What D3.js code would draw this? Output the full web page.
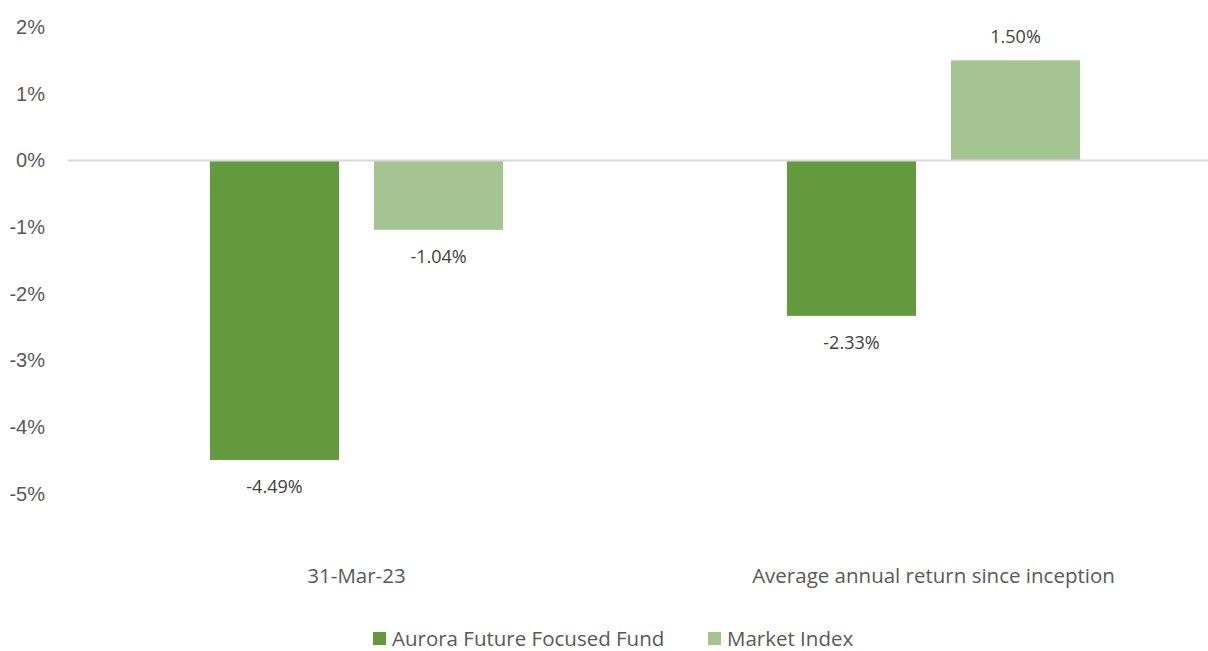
<!DOCTYPE html>
<html>
<head>
<meta charset="utf-8">
<script src="https://cdn.jsdelivr.net/npm/d3@7/dist/d3.min.js"></script>
<style>
  body { margin: 0; background: #fff; }
  svg { display: block; font-family: "Open Sans", "Noto Sans", sans-serif; }
</style>
</head>
<body>
<div id="chart"></div>
<script>
var categories = ['31-Mar-23', 'Average annual return since inception'];
var seriesNames = ['Aurora Future Focused Fund', 'Market Index'];
var fundValues = [-4.49, -2.33];
var indexValues = [-1.04, 1.50];
var yTicks = [2, 1, 0, -1, -2, -3, -4, -5];
var colors = ['#639A3E', '#A4C592'];

var W = 1208, H = 651;
var margin = { top: 27, right: -14, bottom: 157, left: 68 };
var width = W - margin.left - margin.right;
var height = H - margin.top - margin.bottom;

var svg = d3.select('#chart')
  .append('svg')
    .attr('width', W)
    .attr('height', H);

var g = svg.append('g')
  .attr('transform', `translate(${margin.left}, ${margin.top})`);

var y = d3.scaleLinear().domain([2, -5]).range([0, height]);

var x0 = d3.scaleBand().domain(categories).range([0, width]);

// bars take about half of each category band
var groupSpan = x0.bandwidth() * 0.508;
var x1 = d3.scaleBand()
  .domain(seriesNames)
  .range([(x0.bandwidth() - groupSpan) / 2, (x0.bandwidth() + groupSpan) / 2])
  .paddingInner(0.2134);

// y axis labels only, no line
var yAxis = g.append('g')
  .call(d3.axisLeft(y).tickValues(yTicks).tickSize(0).tickPadding(23).tickFormat(d => d + '%'));
yAxis.select('.domain').remove();
yAxis.selectAll('text')
  .attr('fill', '#595959')
  .style('font-size', '20px');

var rows = categories.map((c, i) => ({ cat: c, vals: [fundValues[i], indexValues[i]] }));

var groups = g.selectAll('.grp')
  .data(rows)
  .enter()
  .append('g')
    .attr('class', 'grp')
    .attr('transform', d => `translate(${x0(d.cat)}, 0)`);

groups.selectAll('rect')
  .data(d => d.vals.map((v, j) => ({ name: seriesNames[j], v: v, j: j })))
  .enter()
  .append('rect')
    .attr('x', d => x1(d.name))
    .attr('width', x1.bandwidth())
    .attr('y', d => y(Math.max(0, d.v)))
    .attr('height', d => Math.abs(y(d.v) - y(0)))
    .attr('fill', d => colors[d.j]);

groups.selectAll('.lbl')
  .data(d => d.vals.map((v, j) => ({ name: seriesNames[j], v: v, j: j })))
  .enter()
  .append('text')
    .attr('class', 'lbl')
    .attr('x', d => x1(d.name) + x1.bandwidth() / 2)
    .attr('y', d => d.v < 0 ? y(d.v) + 27 : y(d.v) - 24)
    .attr('dy', '0.35em')
    .attr('text-anchor', 'middle')
    .attr('fill', '#404040')
    .style('font-size', '18px')
    .text(d => d.v.toFixed(2) + '%');

// zero line
g.append('line')
  .attr('x1', 0)
  .attr('x2', width)
  .attr('y1', y(0))
  .attr('y2', y(0))
  .attr('stroke', '#D9D9D9')
  .attr('stroke-width', 2);

// category labels
g.selectAll('.cat')
  .data(categories)
  .enter()
  .append('text')
    .attr('class', 'cat')
    .attr('x', d => x0(d) + x0.bandwidth() / 2)
    .attr('y', 549)
    .attr('dy', '0.35em')
    .attr('text-anchor', 'middle')
    .attr('fill', '#595959')
    .style('font-size', '20.5px')
    .text(d => d);

// legend
var legendX = [373, 708];
var legend = svg.selectAll('.leg')
  .data(seriesNames)
  .enter()
  .append('g')
    .attr('class', 'leg')
    .attr('transform', (d, i) => `translate(${legendX[i]}, 632)`);

legend.append('rect')
  .attr('width', 13)
  .attr('height', 13)
  .attr('fill', (d, i) => colors[i]);

legend.append('text')
  .attr('x', 19)
  .attr('y', 7)
  .attr('dy', '0.35em')
  .attr('fill', '#595959')
  .style('font-size', '20.5px')
  .text(d => d);
</script>
</body>
</html>
